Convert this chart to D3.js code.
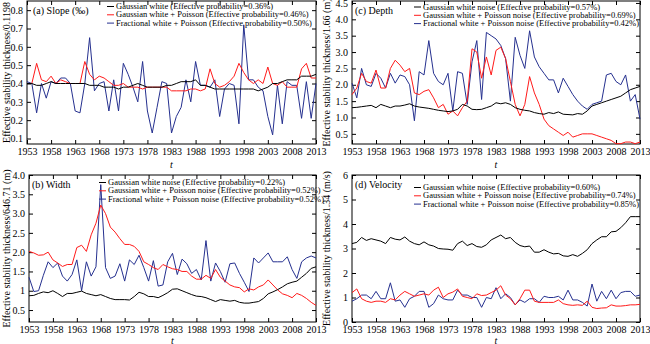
<!DOCTYPE html>
<html>
<head>
<meta charset="utf-8">
<script src="https://cdn.jsdelivr.net/npm/d3@7"></script>
<style>
  body { margin: 0; background: #fff; }
  svg { font-family: "Liberation Serif", "Times New Roman", serif; }
  .line { fill: none; stroke-width: 1; }
</style>
</head>
<body>
<div id="chart"></div>
<script>
const years = d3.range(1953, 2014);
const yearTicks = d3.range(1953, 2014, 5);

// (a) Slope
const slopeBlack = [0.40,0.40,0.39,0.39,0.40,0.41,0.40,0.40,0.40,0.40,0.40,0.40,0.40,0.39,0.39,0.39,0.38,0.38,0.38,0.37,0.38,0.38,0.39,0.40,0.39,0.38,0.38,0.38,0.38,0.39,0.39,0.40,0.41,0.41,0.41,0.42,0.39,0.39,0.38,0.37,0.37,0.37,0.37,0.37,0.37,0.37,0.37,0.37,0.36,0.37,0.38,0.40,0.40,0.41,0.42,0.42,0.42,0.44,0.44,0.44,0.45];
const slopeRed = [0.40,0.40,0.51,0.42,0.41,0.44,0.40,0.42,0.41,0.40,0.40,0.40,0.52,0.45,0.42,0.44,0.43,0.41,0.39,0.39,0.40,0.38,0.38,0.38,0.37,0.38,0.38,0.38,0.38,0.38,0.36,0.36,0.36,0.36,0.37,0.37,0.36,0.37,0.48,0.40,0.38,0.39,0.41,0.44,0.51,0.46,0.42,0.40,0.42,0.40,0.49,0.40,0.39,0.41,0.38,0.38,0.38,0.48,0.51,0.43,0.43];
const slopeBlue = [0.41,0.40,0.24,0.40,0.32,0.41,0.40,0.43,0.43,0.40,0.25,0.24,0.40,0.65,0.36,0.40,0.41,0.25,0.42,0.25,0.51,0.45,0.38,0.30,0.52,0.25,0.13,0.27,0.41,0.40,0.13,0.22,0.27,0.42,0.30,0.52,0.39,0.39,0.38,0.42,0.22,0.37,0.40,0.39,0.18,0.72,0.42,0.42,0.38,0.36,0.22,0.12,0.39,0.18,0.41,0.39,0.39,0.21,0.41,0.21,0.40];
const slopeLegend = ["Gaussian white (Effective probability=0.36%)", "Gaussian white + Poisson (Effective probability=0.46%)", "Fractional white + Poisson (Effective probability=0.50%)"];
const slopeTicks = [0.1,0.2,0.3,0.4,0.5,0.6,0.7,0.8];

// (b) Width
const widthBlack = [0.87,0.88,0.93,0.97,0.95,1.00,0.93,0.85,0.93,0.93,0.96,0.99,0.93,0.90,0.87,0.90,0.85,0.80,0.77,0.77,0.77,0.76,0.85,0.96,0.92,0.85,0.85,0.82,0.88,0.95,1.04,1.05,1.00,0.95,0.90,0.86,0.85,0.82,0.77,0.72,0.77,0.75,0.73,0.75,0.70,0.68,0.68,0.70,0.72,0.80,0.92,0.97,1.03,1.10,1.18,1.22,1.25,1.35,1.45,1.58,1.62];
const widthRed = [2.02,1.98,1.92,1.93,2.00,1.80,1.72,1.63,1.68,1.68,2.12,2.18,2.02,2.45,2.75,3.22,3.00,2.65,2.52,2.35,2.20,2.20,2.15,2.02,1.75,1.68,1.60,1.55,1.68,1.62,1.57,1.55,1.50,1.50,1.38,1.30,1.30,1.40,1.32,1.55,1.35,1.25,1.15,1.10,1.08,0.97,1.05,1.02,1.10,1.15,1.28,1.15,1.02,0.92,0.88,0.82,0.93,0.88,0.80,0.70,0.62];
const widthBlue = [1.35,0.98,1.00,1.40,1.75,1.60,1.72,1.38,1.25,1.42,1.80,1.00,1.75,1.38,1.62,3.75,1.60,1.32,1.38,1.70,1.25,1.80,1.68,1.92,1.60,1.25,1.78,1.12,1.15,1.75,1.97,1.42,1.82,1.70,1.45,1.55,1.28,2.30,1.25,1.72,1.50,1.22,1.70,1.72,1.45,1.22,0.98,1.85,1.72,1.85,1.98,1.75,1.75,1.75,1.88,1.55,1.32,1.75,1.85,1.90,1.85];
const widthLegend = ["Gaussian white noise (Effective probability=0.22%)", "Gaussian white + Poisson noise (Effective probability=0.52%)", "Fractional white + Poisson noise (Effective probability=0.52%)"];
const widthTicks = [0.5,1,1.5,2,2.5,3,3.5,4];

// (c) Depth
const depthBlack = [1.30,1.31,1.33,1.35,1.37,1.30,1.40,1.35,1.30,1.35,1.35,1.38,1.42,1.35,1.32,1.30,1.28,1.25,1.22,1.20,1.18,1.20,1.25,1.40,1.35,1.25,1.24,1.25,1.30,1.35,1.45,1.42,1.45,1.40,1.30,1.25,1.22,1.20,1.15,1.12,1.10,1.15,1.12,1.17,1.10,1.09,1.08,1.12,1.10,1.20,1.35,1.40,1.45,1.50,1.55,1.60,1.65,1.75,1.85,1.90,1.95];
const depthRed = [1.70,1.90,2.35,2.10,2.05,2.45,1.90,1.90,2.50,2.75,2.60,2.40,2.50,1.75,1.70,1.80,1.85,1.60,1.30,1.40,1.10,1.20,1.05,1.30,1.50,3.10,3.00,2.20,2.85,2.30,3.05,3.15,2.80,2.10,1.40,1.05,1.40,2.25,1.75,1.40,0.95,0.75,0.65,0.55,0.45,0.55,0.40,0.45,0.50,0.50,0.50,0.45,0.40,0.35,0.30,0.20,0.20,0.25,0.25,0.20,0.25];
const depthBlue = [2.05,1.60,2.50,2.00,1.95,2.35,2.20,1.90,2.35,2.05,2.30,2.25,2.00,0.90,2.40,2.30,3.35,2.35,2.10,2.00,2.35,1.20,2.40,2.35,1.40,2.70,3.35,1.55,3.60,3.50,3.40,3.20,2.80,1.50,3.45,2.90,2.50,3.65,2.85,2.55,2.35,2.15,2.15,1.75,2.20,1.95,1.70,1.50,1.35,1.25,1.40,1.45,1.50,2.30,2.35,2.10,2.00,2.30,1.50,1.70,0.95];
const depthLegend = ["Gaussian white noise (Effective probability=0.57%)", "Gaussian white + Poisson noise (Effective probability=0.69%)", "Fractional white + Poisson noise (Effective probability=0.42%)"];
const depthTicks = [0.5,1,1.5,2,2.5,3,3.5,4,4.5];

// (d) Velocity
const velBlack = [3.20,3.25,3.45,3.33,3.40,3.35,3.30,3.20,3.45,3.38,3.35,3.47,3.30,3.20,3.15,3.27,3.15,3.10,3.00,2.98,2.97,2.93,3.20,3.30,3.12,3.20,3.08,3.05,3.15,3.35,3.45,3.55,3.40,3.45,3.25,3.12,3.07,3.10,2.85,2.85,2.95,2.85,2.78,2.80,2.70,2.68,2.75,2.68,2.80,2.95,3.20,3.35,3.48,3.48,3.68,3.70,3.85,4.05,4.30,4.30,4.30];
const velRed = [1.20,1.35,0.95,0.85,0.80,0.85,0.85,0.80,0.95,0.90,1.10,1.25,1.15,1.05,1.10,1.15,1.10,1.30,1.42,1.00,1.15,1.22,1.35,1.05,1.00,0.95,1.15,1.08,1.10,1.20,1.30,1.48,1.10,0.95,0.70,0.95,1.30,1.30,0.85,0.80,0.80,0.80,0.80,0.90,0.75,0.70,0.68,0.70,0.68,0.85,0.60,0.55,0.57,0.58,0.70,0.65,0.65,0.67,0.70,0.70,0.72];
const velBlue = [0.85,0.95,1.10,1.10,0.95,1.25,0.95,0.95,1.60,0.85,0.90,0.60,0.95,1.05,1.25,1.25,0.60,0.75,1.10,0.95,0.90,0.90,1.30,1.10,1.10,1.00,1.00,0.60,1.00,0.95,1.40,0.95,1.15,1.00,0.70,0.90,0.80,0.95,0.95,0.80,1.05,1.00,1.00,1.05,0.90,1.30,0.90,0.90,0.80,0.65,1.55,0.85,1.25,0.95,1.30,0.95,1.20,1.25,1.25,1.05,1.10];
const velLegend = ["Gaussian white noise (Effective probability=0.60%)", "Gaussian white + Poisson noise (Effective probability=0.74%)", "Fractional white + Poisson noise (Effective probability=0.85%)"];
const velTicks = [0,1,2,3,4,5,6];

const colors = ["#000000", "#ff1a1a", "#25308f"];

const svg = d3.select("#chart").append("svg")
  .attr("width", 650).attr("height", 344);

const panels = [
  { title: "(a) Slope (\u2030)", ylabel: "Effective stability thickness/0.1198",
    series: [slopeBlack, slopeRed, slopeBlue], legend: slopeLegend, ticks: slopeTicks,
    fmt: d3.format(".1f"), domain: [0.07, 0.85],
    box: [27, 1, 316, 144], leg: [107, 9], tx: 33, lx: 8, ty: 24 },
  { title: "(c) Depth", ylabel: "Effective stability thickness/1.66 (m)",
    series: [depthBlack, depthRed, depthBlue], legend: depthLegend, ticks: depthTicks,
    fmt: d3.format(".1f"), domain: [0.19, 4.56],
    box: [352, 1, 640, 144], leg: [414, 9.5], tx: 355, lx: 328, ty: 24 },
  { title: "(b) Width", ylabel: "Effective stability thickness/646.71 (m)",
    series: [widthBlack, widthRed, widthBlue], legend: widthLegend, ticks: widthTicks,
    fmt: d => d === 1 ? "1" : d3.format(".1f")(d), domain: [0.19, 4.0],
    box: [29, 175, 316, 322], leg: [99, 185], tx: 32, lx: 8, ty: 21.5 },
  { title: "(d) Velocity", ylabel: "Effective stability thickness/1.34 (m/s)",
    series: [velBlack, velRed, velBlue], legend: velLegend, ticks: velTicks,
    fmt: d3.format("d"), domain: [0, 6],
    box: [352, 175, 640, 322], leg: [414, 190], tx: 355, lx: 328, ty: 21.5 }
];

panels.forEach(p => {
  const [x0, y0, x1, y1] = p.box;
  const x = d3.scaleLinear().domain([1953, 2013]).range([x0, x1]);
  const y = d3.scaleLinear().domain(p.domain).range([y1, y0]);
  const g = svg.append("g");

  // frame
  g.append("rect").attr("x", x0).attr("y", y0)
    .attr("width", x1 - x0).attr("height", y1 - y0)
    .attr("fill", "none").attr("stroke", "#000").attr("stroke-width", 1);

  // axes with inward ticks
  const bottom = g.append("g").attr("transform", `translate(0,${y1})`)
    .call(d3.axisBottom(x).tickValues(yearTicks).tickFormat(d3.format("d")).tickSizeInner(-4).tickSizeOuter(0).tickPadding(4));
  const top = g.append("g").attr("transform", `translate(0,${y0})`)
    .call(d3.axisTop(x).tickValues(yearTicks).tickFormat("").tickSizeInner(-4).tickSizeOuter(0));
  const left = g.append("g").attr("transform", `translate(${x0},0)`)
    .call(d3.axisLeft(y).tickValues(p.ticks).tickFormat(p.fmt).tickSizeInner(-4).tickSizeOuter(0).tickPadding(4));
  const right = g.append("g").attr("transform", `translate(${x1},0)`)
    .call(d3.axisRight(y).tickValues(p.ticks).tickFormat("").tickSizeInner(-4).tickSizeOuter(0));
  [bottom, top, left, right].forEach(a => {
    a.select(".domain").remove();
    a.selectAll("text").attr("font-family", "Liberation Serif").attr("font-size", 10).attr("fill", "#000");
  });

  // series
  const line = d3.line().x((d, i) => x(years[i])).y(d => y(d));
  p.series.slice().reverse().forEach((s, k) => {
    g.append("path").datum(s).attr("class", "line")
      .attr("stroke", colors[2 - k]).attr("d", line);
  });

  // title
  g.append("text").attr("x", p.tx).attr("y", y0 + 13)
    .attr("font-size", 10).text(p.title);

  // legend
  p.legend.forEach((t, i) => {
    const ly = p.leg[1] + i * 8.3;
    g.append("line").attr("x1", p.leg[0]).attr("x2", p.leg[0] + 7)
      .attr("y1", ly - 2.5).attr("y2", ly - 2.5)
      .attr("stroke", colors[i]).attr("stroke-width", 1);
    g.append("text").attr("x", p.leg[0] + 9).attr("y", ly)
      .attr("font-size", 8.5).text(t);
  });

  // axis labels
  g.append("text")
    .attr("transform", `translate(${p.lx},${(y0 + y1) / 2}) rotate(-90)`)
    .attr("text-anchor", "middle").attr("dominant-baseline", "middle")
    .attr("font-size", 10).text(p.ylabel);
  g.append("text").attr("x", (x0 + x1) / 2).attr("y", y1 + p.ty)
    .attr("text-anchor", "middle").attr("font-size", 10)
    .attr("font-style", "italic").text("t");
});
</script>
</body>
</html>
